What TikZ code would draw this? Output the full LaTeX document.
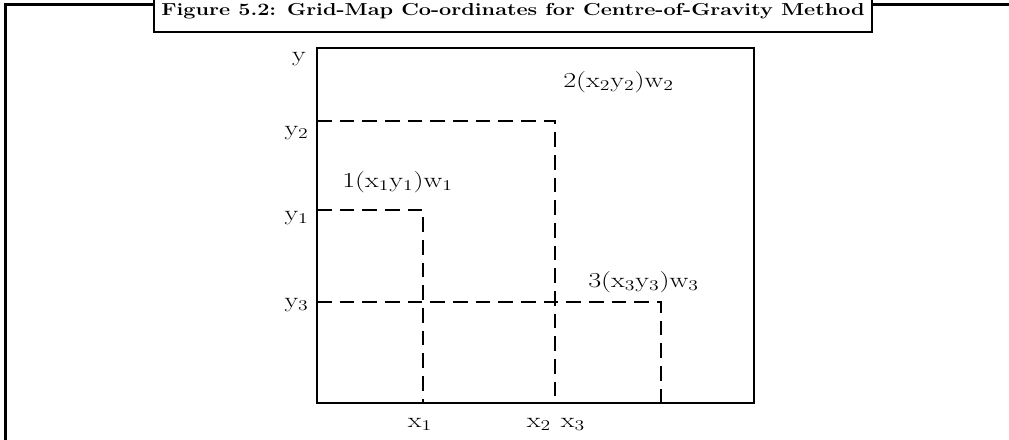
\documentclass[tikz,border=0pt]{standalone}
\usepackage{graphicx}
\usepackage{tikz}
\usetikzlibrary{positioning}

\newcommand{\widetxt}[2][1.32]{\scalebox{#1}[1]{#2}}

\begin{document}
\begin{tikzpicture}[x=0.75pt, y=-0.75pt,
    frame/.style={line width=1.6pt},
    guide/.style={line width=1.6pt, dash pattern=on 11pt off 6pt},
    lbl/.style={font=\fontsize{16}{18}\selectfont, inner sep=0pt},
    ttl/.style={font=\fontsize{13}{15}\selectfont\bfseries, inner sep=0pt}]
  \useasboundingbox (0,0) rectangle (1009,439);
  \clip (0,0) rectangle (1009,439);
  % --- Outer frame with title tab ---
  \draw[frame] (5.5,445) -- (5.5,4.5) -- (154,4.5);
  \draw[frame] (872,4.5) -- (1015,4.5);
  \draw[frame, fill=white] (154,-20) rectangle (872,32);
  \node[ttl, anchor=base] (title) at (513,15)
    {\widetxt[1.25]{Figure 5.2: Grid-Map Co-ordinates for Centre-of-Gravity Method}};
  % --- Grid map ---
  \coordinate (O) at (317,403);
  \draw[frame] (O) rectangle (754,48);
  \coordinate (p1) at (423,210);
  \coordinate (p2) at (555,121);
  \coordinate (p3) at (661,302);
  \foreach \p in {p1,p2,p3} {
    \draw[guide] (\p -| O) -- (\p) -- (\p |- O);
  }
  % --- Axis labels ---
  \node[lbl, anchor=base east] (ly)  at (306,61)  {\widetxt{y}};
  \node[lbl, anchor=base east] (ly2) at (309,135) {\widetxt{y\textsubscript{2}}};
  \node[lbl, anchor=base east] (ly1) at (309,220) {\widetxt{y\textsubscript{1}}};
  \node[lbl, anchor=base east] (ly3) at (309,307) {\widetxt{y\textsubscript{3}}};
  \node[lbl, anchor=base] (lx1) at (420,427) {\widetxt{x\textsubscript{1}}};
  \node[lbl, anchor=base] (lx2) at (539,427) {\widetxt{x\textsubscript{2}}};
  \node[lbl, anchor=base] (lx3) at (573,427) {\widetxt{x\textsubscript{3}}};
  % --- Facility labels ---
  \node[lbl, anchor=base west] (f1) at (342,187)
    {\widetxt{1(x\textsubscript{1}y\textsubscript{1})w\textsubscript{1}}};
  \node[lbl, anchor=base west] (f2) at (563,87)
    {\widetxt{2(x\textsubscript{2}y\textsubscript{2})w\textsubscript{2}}};
  \node[lbl, anchor=base west] (f3) at (588,287)
    {\widetxt{3(x\textsubscript{3}y\textsubscript{3})w\textsubscript{3}}};
\end{tikzpicture}
\end{document}
